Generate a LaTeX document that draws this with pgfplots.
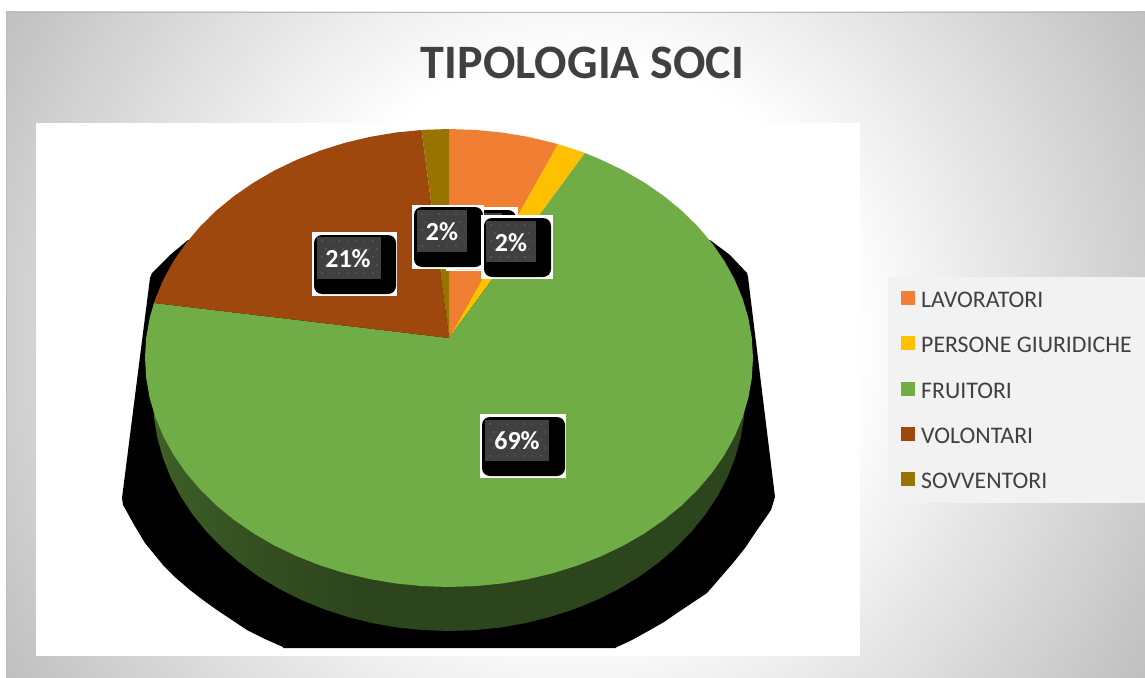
\documentclass[border=0pt]{standalone}
\usepackage{pgfplots}
\pgfplotsset{compat=1.18}
\usepackage{fontspec}
\setmainfont{Carlito}
\definecolor{cOrange}{HTML}{F07F33}
\definecolor{cYellow}{HTML}{FFC000}
\definecolor{cGreen}{HTML}{70AD47}
\definecolor{cBrown}{HTML}{9E480E}
\definecolor{cOlive}{HTML}{997300}
\definecolor{cText}{HTML}{404040}
\definecolor{cLab}{HTML}{404040}
\definecolor{cDot}{HTML}{525252}
\definecolor{cLeg}{HTML}{F2F2F2}
\pgfdeclareradialshading{bgshade}{\pgfpoint{0bp}{0bp}}{color(0bp)=(white);color(10.3bp)=(white);color(24.3bp)=(black!25);color(50bp)=(black!25)}
\pgfdeclarehorizontalshading{wallshade}{100bp}{color(0bp)=(cGreen!95!black);color(4bp)=(cGreen!88!black);color(9bp)=(cGreen!76!black);color(17bp)=(cGreen!66!black);color(25bp)=(cGreen!56!black);color(33bp)=(cGreen!47!black);color(42bp)=(cGreen!40!black);color(100bp)=(cGreen!40!black)}
\newcommand\dotbox[3]{%
  \draw[cDot,line width=1.6pt,dash pattern=on 1.6pt off 6.9pt] (#1+4,#3+4) -- (#2-3,#3+4);
  \draw[cDot,line width=1.6pt,dash pattern=on 1.6pt off 6.9pt] (#1+8,#3+12) -- (#2-3,#3+12);
  \draw[cDot,line width=1.6pt,dash pattern=on 1.6pt off 6.9pt] (#1+4,#3+20) -- (#2-3,#3+20);
  \draw[cDot,line width=1.6pt,dash pattern=on 1.6pt off 6.9pt] (#1+8,#3+28) -- (#2-3,#3+28);
  \draw[cDot,line width=1.6pt,dash pattern=on 1.6pt off 6.9pt] (#1+4,#3+36) -- (#2-3,#3+36);
}
\begin{document}
\begin{tikzpicture}[x=1pt,y=1pt]
\path[use as bounding box] (0,0) rectangle (1145,677);
\fill[white] (0,0) rectangle (1145,677);
\begin{scope}
\clip (6,0) rectangle (1145,665);
\path[shading=bgshade] (575,337) circle (680);
\end{scope}
\draw[black!27,line width=1pt] (6.5,0) -- (6.5,664.5) -- (1145,664.5);
\fill[white] (36,21) rectangle (860,554);
\begin{axis}[
  at={(0pt,0pt)},anchor=south west,
  width=1145pt,height=677pt,scale only axis,
  xmin=0,xmax=1145,ymin=0,ymax=677,y dir=reverse,
  hide axis,clip=false,
  legend style={at={(axis cs:888,277)},anchor=north west,fill=cLeg,draw=none,
    inner xsep=13pt,inner ysep=14pt,
    font=\fontsize{23.8}{26}\selectfont\color{cText},
    row sep=28.75pt,
    nodes={text height=15pt,text depth=0pt,inner xsep=3pt,inner ysep=0pt}},
  legend cell align=left,
  legend image code/.code={\fill[#1] (0pt,-5pt) rectangle (14pt,9pt);\path (17pt,0pt);},
]
% shadow
\addplot[forget plot,fill=black,draw=none] coordinates {
(188,240)(170,255)(152,273)(150,278)(122,498)(123,505)(127,512)(133,523)(139,533)(145,543)(154,554)(163,565)(176,578)(190,590)(203,600)(217,610)(232,620)(247,630)(265,639)(283,647)(283,648)(615,648)(632,640)(650,630)(664,622)(677,613)(692,603)(707,593)(720,578)(733,563)(745,548)(755,533)(762,523)(771,510)(775,497)(748,277)(747,273)(730,255)(710,240)} --cycle;
% wall
\addplot[forget plot,shading=wallshade,draw=none] coordinates {
(753,358)(745,398)(743.9,418.3)(740.5,438.5)(734.9,458.3)(727.2,477.7)(717.3,496.5)(705.3,514.5)(691.5,531.6)(675.7,547.8)(658.3,562.8)(639.3,576.5)(618.8,588.9)(597,599.8)(574.1,609.2)(550.2,616.9)(525.6,623.1)(500.4,627.5)(474.8,630.1)(449,631)(423.2,630.1)(397.6,627.5)(372.4,623.1)(347.8,616.9)(323.9,609.2)(301,599.8)(279.2,588.9)(258.7,576.5)(239.7,562.8)(222.3,547.8)(206.5,531.6)(192.7,514.5)(180.7,496.5)(170.8,477.7)(163.1,458.3)(157.5,438.5)(154.1,418.3)(153,398)(145,358)} --cycle;
% LAVORATORI
\addplot[fill=cOrange,draw=none] coordinates {
(449,338)(449,129)(475.5,129.9)(501.8,132.5)(527.7,136.8)(553,142.8)(558,144.2)} --cycle;
\addlegendentry{LAVORATORI}
% PERSONE GIURIDICHE
\addplot[fill=cYellow,draw=none] coordinates {
(449,338)(558,144.2)(571,148.2)(585,153)} --cycle;
\addlegendentry{PERSONE GIURIDICHE}
% FRUITORI
\addplot[fill=cGreen,draw=none] coordinates {
(449,338)(585,153)(601,159.7)(623.4,170.4)(644.4,182.6)(664,196.1)(681.9,210.8)(698,226.7)(712.3,243.5)(724.5,261.2)(734.7,279.7)(742.6,298.7)(748.4,318.2)(751.8,338)(753,358)(751.8,378)(748.4,397.8)(742.6,417.3)(734.7,436.3)(724.5,454.8)(712.3,472.5)(698,489.3)(681.9,505.2)(664,519.9)(644.4,533.4)(623.4,545.6)(601,556.3)(577.5,565.5)(553,573.2)(527.7,579.2)(501.8,583.5)(475.5,586.1)(449,587)(422.5,586.1)(396.2,583.5)(370.3,579.2)(345,573.2)(320.5,565.5)(297,556.3)(274.6,545.6)(253.6,533.4)(234,519.9)(216.1,505.2)(200,489.3)(185.7,472.5)(173.5,454.8)(163.3,436.3)(155.4,417.3)(149.6,397.8)(146.2,378)(145,358)(146.2,338)(149.6,318.2)(154,303)} --cycle;
\addlegendentry{FRUITORI}
% VOLONTARI
\addplot[fill=cBrown,draw=none] coordinates {
(449,338)(154,303)(155.4,298.7)(163.3,279.7)(173.5,261.2)(185.7,243.5)(200,226.7)(216.1,210.8)(234,196.1)(253.6,182.6)(274.6,170.4)(297,159.7)(320.5,150.5)(345,142.8)(370.3,136.8)(396.2,132.5)(421.5,130)} --cycle;
\addlegendentry{VOLONTARI}
% SOVVENTORI
\addplot[fill=cOlive,draw=none] coordinates {
(449,338)(421.5,130)(422.5,129.9)(449,129)} --cycle;
\addlegendentry{SOVVENTORI}
% hidden label (only its edges are visible)
\fill[white] (446,207) rectangle (518,271);
\fill[black,rounded corners=8pt] (449,210) rectangle (516,269);
\fill[cLab] (452,213) rectangle (502,254);
% 2% left
\fill[white] (412,205) rectangle (484,269);
\fill[black,rounded corners=8pt] (414,207) rectangle (483,267);
\fill[cLab] (417,210) rectangle (467,252);
\dotbox{417}{467}{210}
\node[white,font=\fontsize{26}{28}\bfseries\selectfont,inner sep=0pt] at (442,232) {2\%};
% 2% right
\fill[white] (481,215) rectangle (553,279);
\fill[black,rounded corners=8pt] (484,218) rectangle (551,277);
\fill[cLab] (486,221) rectangle (536,262);
\dotbox{486}{536}{221}
\node[white,font=\fontsize{26}{28}\bfseries\selectfont,inner sep=0pt] at (511,243) {2\%};
% 21%
\fill[white] (312,232) rectangle (397,296);
\fill[black,rounded corners=8pt] (314,235) rectangle (396,294);
\fill[cLab] (317,237) rectangle (381,279);
\dotbox{317}{381}{237}
\node[white,font=\fontsize{26}{28}\bfseries\selectfont,inner sep=0pt] at (348,259) {21\%};
% 69%
\fill[white] (480,414) rectangle (566,478);
\fill[black,rounded corners=8pt] (482,417) rectangle (565,476);
\fill[cLab] (485,420) rectangle (549,461);
\dotbox{485}{549}{420}
\node[white,font=\fontsize{26}{28}\bfseries\selectfont,inner sep=0pt] at (517,441) {69\%};
% title
\node[cText,font=\fontsize{48}{52}\bfseries\selectfont,inner sep=0pt] at (582.5,62.5) {TIPOLOGIA SOCI};
\end{axis}
\end{tikzpicture}
\end{document}
